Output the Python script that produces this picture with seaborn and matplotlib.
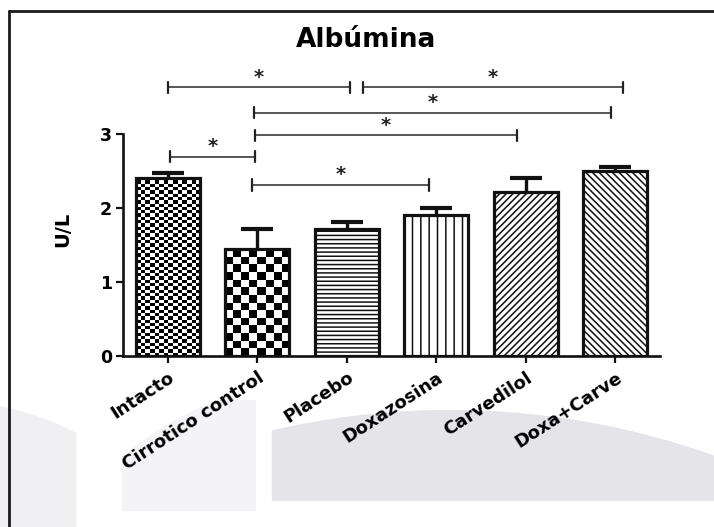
import numpy as np
import matplotlib
matplotlib.use('Agg')
import matplotlib.pyplot as plt
import matplotlib.patches as mpatches
import matplotlib.transforms as mtransforms
from matplotlib.lines import Line2D
import seaborn as sns

# ------------------------------------------------------------
# Data
# ------------------------------------------------------------
groups = ['Intacto', 'Cirrotico control', 'Placebo', 'Doxazosina', 'Carvedilol', 'Doxa+Carve']
means = [2.41, 1.44, 1.71, 1.90, 2.21, 2.50]
sem = [0.06, 0.28, 0.10, 0.10, 0.20, 0.06]

# significance brackets: start, end (category axis) and height (U/L)
bracket_x0 = [0.00, 2.18, 0.96, 0.98, 0.03, 0.94]
bracket_x1 = [2.04, 5.09, 4.95, 3.90, 0.98, 2.92]
bracket_y = [3.63, 3.63, 3.29, 2.98, 2.69, 2.31]
bracket_label = ['*', '*', '*', '*', '*', '*']

sns.set_style('ticks')
plt.rcParams['font.family'] = ['DejaVu Sans']
plt.rcParams['text.color'] = 'black'
plt.rcParams['xtick.color'] = 'black'
plt.rcParams['ytick.color'] = 'black'
plt.rcParams['axes.labelcolor'] = 'black'
plt.rcParams['hatch.linewidth'] = 1.1
plt.rcParams['hatch.color'] = 'black'

fig = plt.figure(figsize=(7.14, 5.27), dpi=100)

# pixel (y down) -> figure transform, used for decoration only
px = mtransforms.Affine2D().scale(0.01, -0.01).translate(0, 5.27) + fig.dpi_scale_trans

# faint watermark shapes behind the chart
for (rx, ry, rw, rh, cx, cy, r, col) in [
        (272, 410, 442, 90, 450, 1200, 790, '#e4e4e9'),
        (122, 400, 133, 110, 330, 700, 320, '#f4f4f6'),
        (0, 400, 75, 127, -60, 700, 300, '#f0f0f3')]:
    rect = mpatches.Rectangle((rx, ry), rw, rh, transform=px, color=col, zorder=-10)
    circ = mpatches.Circle((cx, cy), r, transform=px)
    fig.patches.append(rect)
    rect.set_clip_path(circ)

# frame (left + top)
fig.add_artist(Line2D([9, 714], [11, 11], transform=px, color='#1a1a1a', lw=2))
fig.add_artist(Line2D([9, 9], [11, 527], transform=px, color='#1a1a1a', lw=2))

ax = fig.add_axes([0.1723, 0.3245, 0.7521, 0.4213])
ax.patch.set_alpha(0)

sns.barplot(x=groups, y=means, color='white', edgecolor='#111111', linewidth=2.3,
            width=0.72, errorbar=None, saturation=1, ax=ax)

ax.set_xlim(-0.5, 5.5)
ax.set_ylim(0, 3)

hatches = [None, None, '----', '||', '/////', '\\\\\\\\\\']
bars = ax.patches[:len(groups)]
for bar, h in zip(bars, hatches):
    if h:
        bar.set_hatch(h)


def checker(bar, ncols, cell_h):
    x0, w, h = bar.get_x(), bar.get_width(), bar.get_height()
    nrows = max(1, int(round(h / cell_h)))
    grid = np.add.outer(np.arange(nrows), np.arange(ncols)) % 2
    bar.set_facecolor('none')
    im = ax.imshow(grid, extent=(x0, x0 + w, 0, h), cmap='gray', vmin=0, vmax=1,
                   interpolation='nearest', aspect='auto', origin='lower', zorder=0.5)
    im.set_clip_path(bar)


checker(bars[0], 14, 0.045)
checker(bars[1], 8, 0.1)
ax.set_xlim(-0.5, 5.5)
ax.set_ylim(0, 3)

# upper error bars only
eb = ax.errorbar(range(len(groups)), means, yerr=[[0] * len(sem), sem], fmt='none',
                 ecolor='#111111', elinewidth=2.4, capsize=11.5, capthick=3, zorder=3)
for cap in eb[1]:
    if np.allclose(cap.get_ydata(), means):
        cap.set_visible(False)

# significance brackets
for x0, x1, y, lab in zip(bracket_x0, bracket_x1, bracket_y, bracket_label):
    ax.plot([x0, x1], [y, y], color='#555555', lw=1.4, clip_on=False, zorder=4)
    for xe in (x0, x1):
        ax.plot([xe, xe], [y - 0.075, y + 0.075], color='#222222', lw=1.6,
                clip_on=False, zorder=4)
    ax.text((x0 + x1) / 2, y + 0.01, lab, ha='center', va='bottom', fontsize=14,
            fontweight='bold', color='#222222', clip_on=False)

sns.despine(ax=ax)
for side in ('left', 'bottom'):
    ax.spines[side].set_linewidth(1.9)
    ax.spines[side].set_color('#111111')

ax.set_yticks([0, 1, 2, 3])
ax.tick_params(axis='both', length=5, width=1.6, color='#111111', labelsize=12.5)
ax.tick_params(axis='y', pad=3)
ax.tick_params(axis='x', pad=4)
for lab in ax.get_yticklabels():
    lab.set_fontweight('bold')
ax.set_xticks(range(len(groups)))
ax.set_xticklabels(groups, rotation=33, ha='right', rotation_mode='anchor',
                   fontweight='bold', fontsize=13)

ax.set_xlabel('')
ax.set_ylabel('U/L', fontsize=14, fontweight='bold')
ax.yaxis.set_label_coords(-0.095, 0.57)

fig.text(0.513, 0.924, 'Albúmina', ha='center', va='center', fontsize=19, fontweight='bold')

plt.savefig('out.png', dpi=100)
plt.close()
